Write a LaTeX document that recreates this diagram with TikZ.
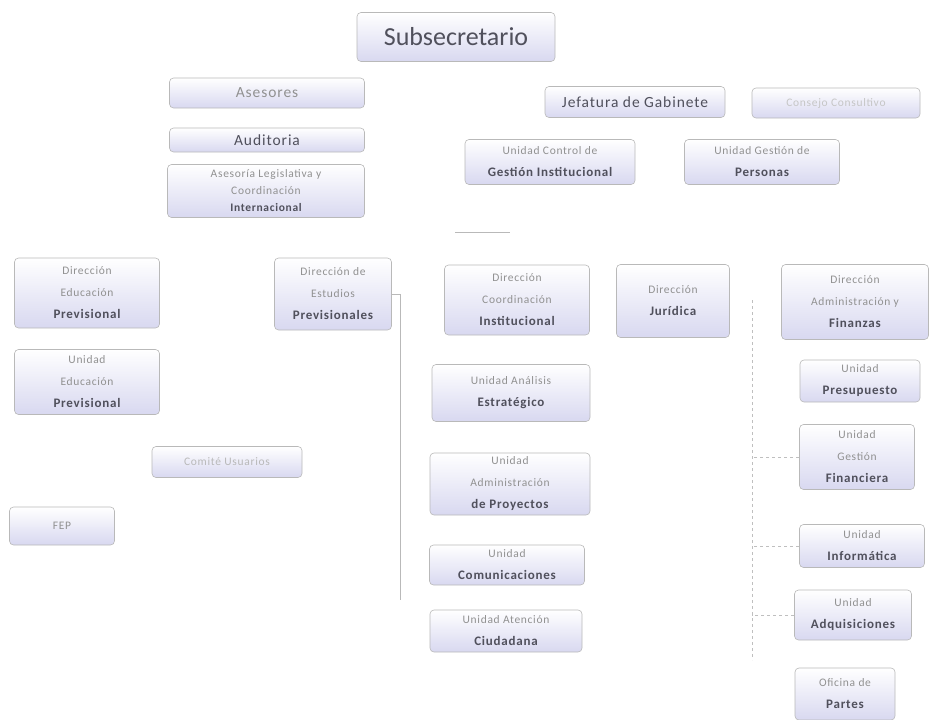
\documentclass[tikz,border=0pt]{standalone}
\usepackage{fontspec}
\setmainfont{Carlito}
\newfontfamily\widefont[LetterSpace=6]{Carlito}
\definecolor{lav}{RGB}{216,216,240}
\definecolor{txtlight}{RGB}{145,145,145}
\definecolor{txtdark}{RGB}{80,80,92}
\newcommand{\darkln}[1]{{\color{txtdark}\fontsize{13}{22}\selectfont\bfseries #1}}

\begin{document}
\begin{tikzpicture}[x=1pt,y=-1pt,
    unit/.style={draw=gray!55, line width=0.6pt, rounded corners=4pt,
        top color=white, middle color=white, bottom color=lav,
        align=center, text=txtlight, inner sep=1pt,
        font=\widefont\fontsize{11.5}{22}\selectfont},
    big/.style={unit, text=txtdark, font=\widefont\fontsize{15.5}{18}\selectfont},
    link/.style={draw=gray!55, line width=0.6pt},
    dlink/.style={draw=gray!50, line width=0.5pt, dashed}]
    \useasboundingbox (0,0) rectangle (929,720);

    % top of the chart
    \node[unit, minimum width=198, minimum height=49, text=txtdark,
        font=\fontsize{26}{30}\selectfont] (sub) at (456,37) {Subsecretario};
    \node[big, minimum width=195, minimum height=30, text=txtlight] (ases) at (267,93) {Asesores};
    \node[big, minimum width=195, minimum height=24] (audi) at (267,140) {Auditoria};
    \node[unit, minimum width=197, minimum height=53, font=\widefont\fontsize{11.5}{17}\selectfont] (aleg) at (266,191)
        {Asesoría Legislativa y\\Coordinación\\{\color{txtdark}\bfseries Internacional}};
    \node[unit, minimum width=168, minimum height=30, text=gray!45] (cons) at (836,103) {Consejo Consultivo};
    \node[big, minimum width=180, minimum height=31] (jefa) at (635,102) {Jefatura de Gabinete};
    \node[unit, minimum width=170, minimum height=45] (ucgi) at (550,162)
        {Unidad Control de\\\darkln{Gestión Institucional}};
    \node[unit, minimum width=155, minimum height=45] (ugp) at (762,162)
        {Unidad Gestión de\\\darkln{Personas}};

    % left branch
    \node[unit, minimum width=145, minimum height=70] (dep) at (87,293)
        {Dirección\\Educación\\\darkln{Previsional}};
    \node[unit, minimum width=117, minimum height=72] (dee) at (333,294)
        {Dirección de\\Estudios\\\darkln{Previsionales}};
    \node[unit, minimum width=145, minimum height=65] (uep) at (87,382)
        {Unidad\\Educación\\\darkln{Previsional}};
    \node[unit, minimum width=150, minimum height=31, text=gray!55] (cu) at (227,462) {Comité Usuarios};
    \node[unit, minimum width=105, minimum height=38] (fep) at (62,526) {FEP};

    % middle branch
    \node[unit, minimum width=145, minimum height=70] (dci) at (517,300)
        {Dirección\\Coordinación\\\darkln{Institucional}};
    \node[unit, minimum width=113, minimum height=73] (dj) at (673,301)
        {Dirección\\\darkln{Jurídica}};
    \node[unit, minimum width=158, minimum height=57] (uae) at (511,393)
        {Unidad Análisis\\\darkln{Estratégico}};
    \node[unit, minimum width=160, minimum height=62] (uap) at (510,484)
        {Unidad\\Administración\\\darkln{de Proyectos}};
    \node[unit, minimum width=155, minimum height=40] (ucom) at (507,565)
        {Unidad\\\darkln{Comunicaciones}};
    \node[unit, minimum width=152, minimum height=42] (uac) at (506,631)
        {Unidad Atención\\\darkln{Ciudadana}};

    % right branch
    \node[unit, minimum width=147, minimum height=75] (daf) at (855,302)
        {Dirección\\Administración y\\\darkln{Finanzas}};
    \node[unit, minimum width=120, minimum height=42] (upre) at (860,381)
        {Unidad\\\darkln{Presupuesto}};
    \node[unit, minimum width=115, minimum height=65] (ugf) at (857,457)
        {Unidad\\Gestión\\\darkln{Financiera}};
    \node[unit, minimum width=125, minimum height=43] (uinf) at (862,546)
        {Unidad\\\darkln{Informática}};
    \node[unit, minimum width=117, minimum height=50] (uadq) at (853,615)
        {Unidad\\\darkln{Adquisiciones}};
    \node[unit, minimum width=100, minimum height=52] (opar) at (845,694)
        {Oficina de\\\darkln{Partes}};

    % connectors
    \coordinate (spine) at (400,600);
    \coordinate (dtop) at (752,300);
    \coordinate (dbot) at (752,660);
    \coordinate (hA) at (455,232);
    \coordinate (hB) at (510,232);
    \draw[link] (dee.east) -| (spine);
    \draw[dlink] (dtop) -- (dbot);
    \draw[dlink] (ugf.west) -- (ugf.west -| dtop);
    \draw[dlink] (uinf.west) -- (uinf.west -| dtop);
    \draw[dlink] (uadq.west) -- (uadq.west -| dtop);
    \draw[link] (hA) -- (hB);
\end{tikzpicture}
\end{document}
